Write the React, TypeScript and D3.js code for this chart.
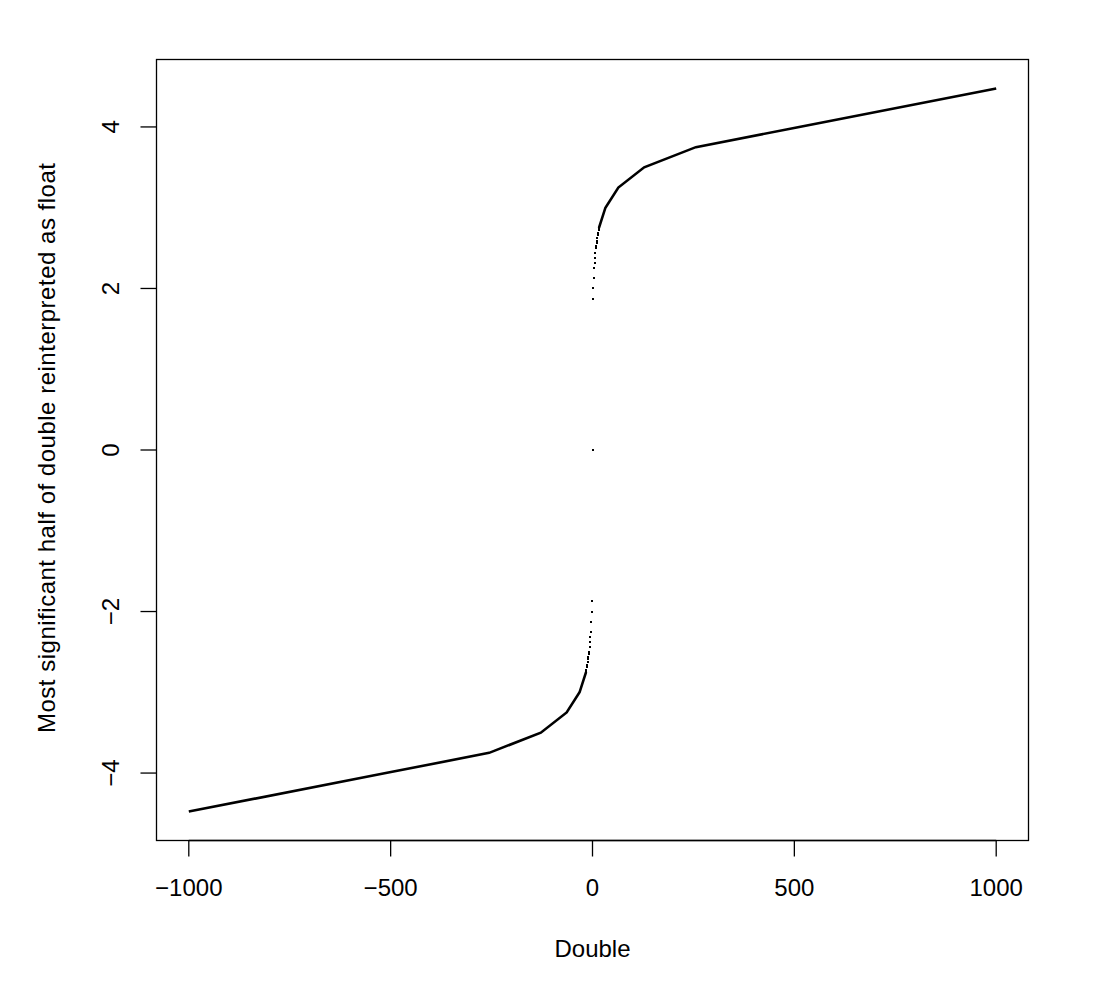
import React from "react";
import * as d3 from "d3";

// Isolated points near zero (x = double input, y = upper half as float)
const dotX = [
  -16, -15, -14, -13, -12, -11, -10, -9, -8, -7, -6, -5, -4, -3, -2, -1, 0,
  1, 2, 3, 4, 5, 6, 7, 8, 9, 10, 11, 12, 13, 14, 15, 16,
];
const dotY = [
  -2.75, -2.71875, -2.6875, -2.65625, -2.625, -2.59375, -2.5625, -2.53125, -2.5,
  -2.4375, -2.375, -2.3125, -2.25, -2.125, -2.0, -1.875, 0,
  1.875, 2.0, 2.125, 2.25, 2.3125, 2.375, 2.4375, 2.5, 2.53125, 2.5625,
  2.59375, 2.625, 2.65625, 2.6875, 2.71875, 2.75,
];

// Dense (solid-looking) parts of the curve
const posLineX = [16, 32, 64, 128, 256, 512, 1000];
const posLineY = [2.75, 3.0, 3.25, 3.5, 3.75, 4.0, 4.477];
const negLineX = [-1000, -512, -256, -128, -64, -32, -16];
const negLineY = [-4.477, -4.0, -3.75, -3.5, -3.25, -3.0, -2.75];

const xTicks = [-1000, -500, 0, 500, 1000];
const yTicks = [-4, -2, 0, 2, 4];

const xLabel = "Double";
const yLabel = "Most significant half of double reinterpreted as float";

export default function App() {
  const width = 1094;
  const height = 1000;
  const left = 156.5;
  const right = 1028.5;
  const top = 59.5;
  const bottom = 840.5;

  const x = d3.scaleLinear().domain([-1080, 1080]).range([left, right]);
  const y = d3.scaleLinear().domain([-4.835, 4.835]).range([bottom, top]);

  const mk = (xs: number[], ys: number[]) =>
    d3
      .line<number>()
      .x((d) => x(d))
      .y((_, i) => y(ys[i]))(xs) as string;

  const font = "'Liberation Sans', Arial, Helvetica, sans-serif";
  const fs = 24;
  const minus = (v: number) => (v < 0 ? "\u2212" + Math.abs(v) : String(v));

  return (
    <svg
      width={width}
      height={height}
      style={{ position: "absolute", left: 0, top: 0, background: "#fff" }}
      fontFamily={font}
    >
      <rect x={0} y={0} width={width} height={height} fill="#fff" />
      {/* data */}
      <path d={mk(negLineX, negLineY)} fill="none" stroke="#000" strokeWidth={2.6} />
      <path d={mk(posLineX, posLineY)} fill="none" stroke="#000" strokeWidth={2.6} />
      {dotX.map((dx, i) => (
        <rect
          key={i}
          x={Math.round(x(dx) - 1)}
          y={Math.round(y(dotY[i]) - 1)}
          width={2}
          height={2}
          fill="#000"
        />
      ))}
      {/* box */}
      <rect
        x={left}
        y={top}
        width={right - left}
        height={bottom - top}
        fill="none"
        stroke="#000"
        strokeWidth={1.3}
      />
      {/* x axis */}
      <line
        x1={x(xTicks[0])}
        x2={x(xTicks[xTicks.length - 1])}
        y1={bottom}
        y2={bottom}
        stroke="#000"
        strokeWidth={1.3}
      />
      {xTicks.map((t) => (
        <g key={t}>
          <line x1={x(t)} x2={x(t)} y1={bottom} y2={bottom + 16} stroke="#000" strokeWidth={1.3} />
          <text x={x(t)} y={896} textAnchor="middle" fontSize={fs} fill="#000">
            {minus(t)}
          </text>
        </g>
      ))}
      {/* y axis */}
      {yTicks.map((t) => (
        <g key={t}>
          <line x1={left - 16} x2={left} y1={y(t)} y2={y(t)} stroke="#000" strokeWidth={1.3} />
          <text
            transform={`translate(119, ${y(t)}) rotate(-90)`}
            textAnchor="middle"
            fontSize={fs}
            fill="#000"
          >
            {minus(t)}
          </text>
        </g>
      ))}
      <text x={(left + right) / 2} y={956.5} textAnchor="middle" fontSize={fs} fill="#000">
        {xLabel}
      </text>
      <text
        transform={`translate(55, 448) rotate(-90)`}
        textAnchor="middle"
        fontSize={fs}
        textLength={570}
        lengthAdjust="spacing"
        fill="#000"
      >
        {yLabel}
      </text>
    </svg>
  );
}
